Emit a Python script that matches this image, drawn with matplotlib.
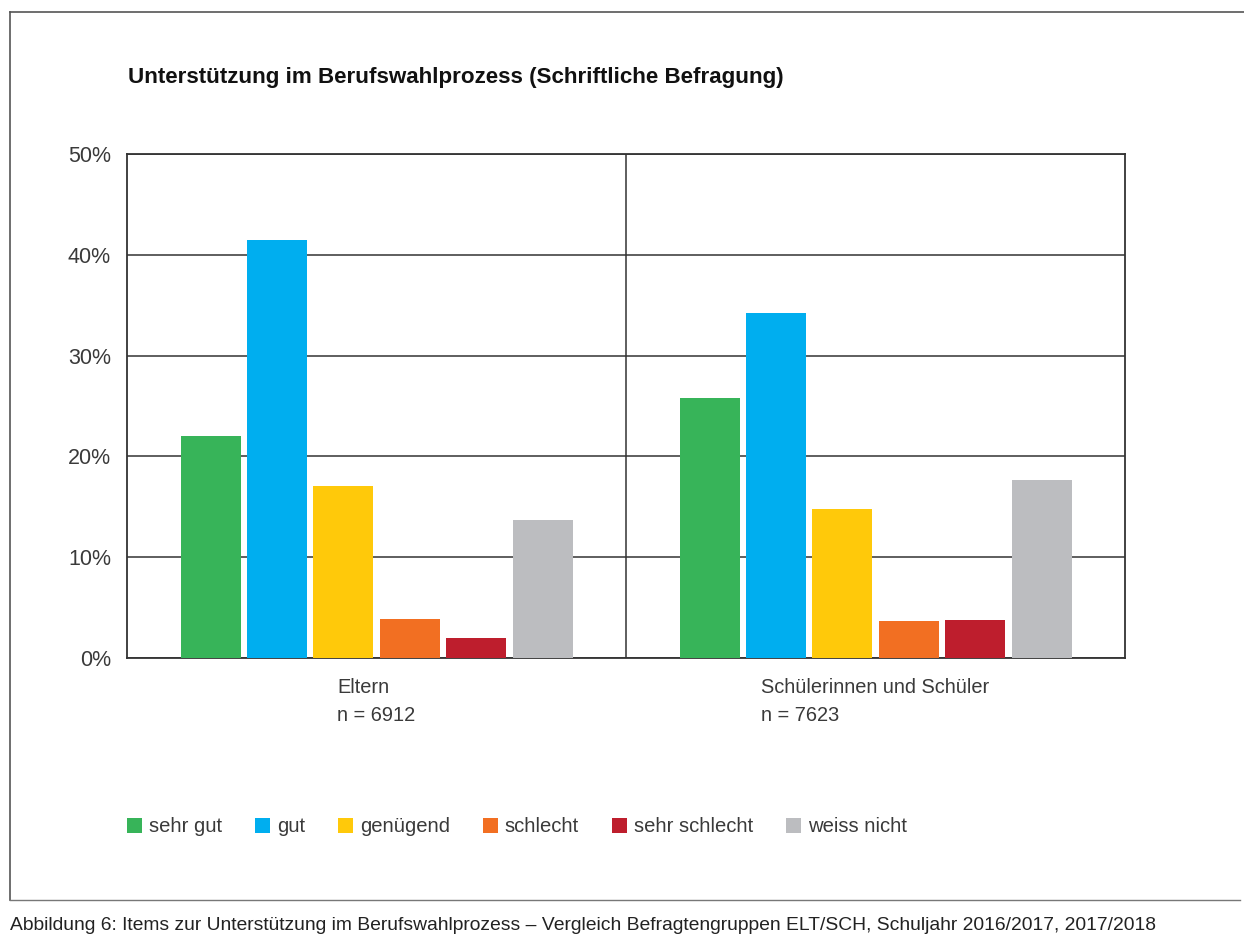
import matplotlib
matplotlib.use("Agg")
import matplotlib.pyplot as plt
from matplotlib.patches import Patch
from matplotlib.lines import Line2D
import numpy as np

plt.rcParams['font.family'] = ['Liberation Sans', 'DejaVu Sans']

groups = ["Eltern\nn = 6912", "Schülerinnen und Schüler\nn = 7623"]
categories = ["sehr gut", "gut", "genügend", "schlecht", "sehr schlecht", "weiss nicht"]
eltern = [22.0, 41.5, 17.1, 3.9, 2.0, 13.7]
schueler = [25.8, 34.2, 14.8, 3.7, 3.8, 17.7]
colors = ["#37b459", "#00aeef", "#ffc90a", "#f26f22", "#be1e2d", "#bcbdc0"]
yticks = [0, 10, 20, 30, 40, 50]
ytick_labels = ["0%", "10%", "20%", "30%", "40%", "50%"]
title = "Unterstützung im Berufswahlprozess (Schriftliche Befragung)"
caption = ("Abbildung 6: Items zur Unterstützung im Berufswahlprozess – Vergleich "
           "Befragtengruppen ELT/SCH, Schuljahr 2016/2017, 2017/2018")

W, H = 1244, 948
fig = plt.figure(figsize=(W / 100, H / 100), dpi=100)
ax = fig.add_axes([127 / W, 1 - 658 / H, (1125 - 127) / W, (658 - 154) / H])

values = np.array([eltern, schueler])
x = np.arange(len(groups))
step = 66.4 / 499
width = 60 / 499
n = len(categories)
for i in range(n):
    ax.bar(x + (i - (n - 1) / 2) * step, values[:, i], width=width,
           color=colors[i], zorder=3, label=categories[i])

ax.set_xlim(-0.5, len(groups) - 0.5)
ax.set_ylim(0, 50)
ax.set_yticks(yticks)
ax.set_yticklabels(ytick_labels, fontsize=15.5, color="#3a3a3a")
ax.tick_params(axis='y', length=0, pad=11.5)
ax.set_xticks([])
for yv in yticks:
    ax.axhline(yv, color="#333333", lw=1.1, zorder=1)
for xv in np.arange(0.5, len(groups) - 0.5, 1):
    ax.axvline(xv, color="#333333", lw=1.1, zorder=1)
for s in ax.spines.values():
    s.set_color("#333333")
    s.set_linewidth(1.3)

for xi, g in zip(x, groups):
    ax.text(xi, -2.0, g, ha='center', va='top', multialignment='left',
            fontsize=14.4, color="#3a3a3a", linespacing=1.6,
            transform=ax.transData)

fig.text(128 / W, 1 - 78 / H, title, fontsize=16.1, fontweight='bold',
         ha='left', va='center', color="#111111")

handles = [Patch(facecolor=c, edgecolor='none') for c in colors]
fig.legend(handles, categories, loc='center left',
           bbox_to_anchor=(127 / W, 1 - 827 / H), ncol=6, frameon=False,
           fontsize=14.6, handlelength=0.75, handleheight=0.75,
           handletextpad=0.35, columnspacing=1.6, labelcolor="#3a3a3a",
           borderaxespad=0, borderpad=0)

# frame lines
fig.add_artist(Line2D([10 / W, 10 / W], [1 - 12 / H, 1 - 900 / H],
                      color="#555555", lw=1.2, transform=fig.transFigure))
fig.add_artist(Line2D([10 / W, 1.0], [1 - 12 / H, 1 - 12 / H],
                      color="#555555", lw=1.2, transform=fig.transFigure))
fig.add_artist(Line2D([10 / W, 1240 / W], [1 - 900 / H, 1 - 900 / H],
                      color="#777777", lw=1.0, transform=fig.transFigure))

fig.text(10 / W, 1 - 926 / H, caption, fontsize=13.9, ha='left', va='center',
         color="#222222")

fig.savefig("out.png", dpi=100)
